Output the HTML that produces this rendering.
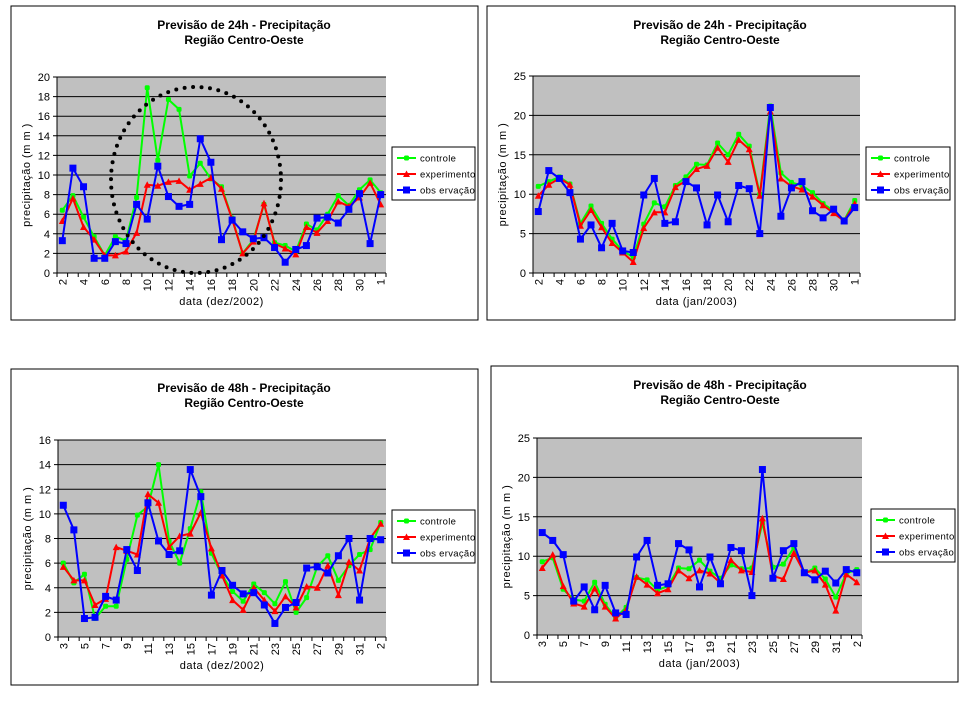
<!DOCTYPE html>
<html><head><meta charset="utf-8"><style>
body{margin:0;background:#fff;width:960px;height:720px;overflow:hidden;font-family:"Liberation Sans",Arial,sans-serif}
svg{position:absolute;left:0;top:0}
</style></head><body>
<svg id="s" width="960" height="720" xmlns="http://www.w3.org/2000/svg"></svg>
<script>
const c1Labels=[2,3,4,5,6,7,8,9,10,11,12,13,14,15,16,17,18,19,20,21,22,23,24,25,26,27,28,29,30,31,1];
const c1Green=[6.4,7.9,5.7,3.7,1.8,3.7,3.3,7.7,18.9,11.5,17.7,16.7,9.9,11.2,9.6,8.8,5.6,2.0,3.4,7.0,3.1,2.8,2.2,5.0,4.4,6.0,7.9,6.9,8.5,9.5,8.2];
const c1Red=[5.3,7.6,4.7,3.4,1.8,1.8,2.2,4.1,9.0,8.9,9.3,9.4,8.5,9.1,9.7,8.6,5.5,2.0,3.2,7.1,3.0,2.5,1.9,4.7,4.1,5.3,7.3,6.8,7.7,9.2,7.0];
const c1Blue=[3.3,10.7,8.8,1.5,1.5,3.2,3.0,7.0,5.5,10.9,7.8,6.8,7.0,13.7,11.3,3.4,5.4,4.2,3.5,3.6,2.6,1.1,2.4,2.8,5.6,5.7,5.1,6.5,8.1,3.0,8.0];
const c2Labels=c1Labels;
const c2Green=[11.0,11.6,12.2,11.3,6.3,8.5,6.3,4.3,2.8,2.0,6.2,8.9,8.4,11.1,12.2,13.8,13.7,16.5,15.0,17.6,16.1,10.0,21.2,12.7,11.5,11.1,10.2,8.8,7.9,6.7,9.2];
const c2Red=[9.8,11.2,12.0,11.2,6.0,8.0,5.8,3.8,2.6,1.4,5.7,7.7,7.7,10.9,11.7,13.2,13.6,15.9,14.1,16.9,15.7,9.8,20.5,12.0,11.0,10.6,9.7,8.6,7.6,6.6,8.8];
const c2Blue=[7.8,13.0,12.0,10.2,4.3,6.1,3.2,6.3,2.8,2.6,9.9,12.0,6.3,6.5,11.6,10.8,6.1,9.9,6.5,11.1,10.7,5.0,21.0,7.2,10.8,11.6,7.9,7.0,8.1,6.6,8.3];
const c3Labels=[3,4,5,6,7,8,9,10,11,12,13,14,15,16,17,18,19,20,21,22,23,24,25,26,27,28,29,30,31,1,2];
const c3Green=[6.0,4.4,5.1,1.5,2.5,2.5,6.3,9.9,10.6,14.0,7.8,6.0,8.8,11.8,6.8,5.0,3.7,2.9,4.3,3.6,2.7,4.5,2.0,3.2,5.7,6.6,4.6,5.8,6.7,7.1,9.3];
const c3Red=[5.7,4.6,4.6,2.6,3.1,7.3,7.0,6.7,11.6,10.9,7.3,8.2,8.4,10.1,7.2,5.0,3.0,2.2,4.0,3.0,2.1,3.3,2.4,4.1,4.0,5.8,3.4,6.1,5.4,8.0,9.2];
const c3Blue=[10.7,8.7,1.5,1.6,3.3,3.0,7.1,5.4,10.9,7.8,6.7,7.0,13.6,11.4,3.4,5.4,4.2,3.5,3.6,2.6,1.1,2.4,2.8,5.6,5.7,5.2,6.6,8.0,3.0,8.0,7.9];
const c4Labels=c3Labels;
const c4Green=[9.3,9.8,5.8,4.5,4.3,6.7,3.9,2.2,3.5,7.3,7.0,5.7,6.2,8.5,8.4,9.5,8.1,7.2,8.9,8.4,8.5,14.2,8.6,9.0,11.1,7.8,8.5,7.1,4.8,7.8,8.3];
const c4Red=[8.5,10.2,6.2,4.0,3.6,5.9,3.6,2.1,3.2,7.4,6.4,5.3,5.8,8.2,7.2,8.2,7.8,6.6,9.5,8.2,8.0,14.8,7.5,7.1,10.4,7.9,8.2,6.4,3.1,7.7,6.7];
const c4Blue=[13.0,12.0,10.2,4.3,6.1,3.2,6.3,2.8,2.6,9.9,12.0,6.3,6.5,11.6,10.8,6.1,9.9,6.5,11.1,10.7,5.0,21.0,7.2,10.7,11.6,7.9,7.0,8.1,6.6,8.3,7.9];

const S=document.getElementById('s');
const NS='http://www.w3.org/2000/svg';
function mk(tag,at,parent){const e=document.createElementNS(NS,tag);for(const k in at)e.setAttribute(k,at[k]);(parent||S).appendChild(e);return e;}
function txt(x,y,t,at,parent){const e=mk('text',Object.assign({x:x,y:y,'font-family':'Liberation Sans, Arial, sans-serif'},at),parent);e.textContent=t;return e;}

function chart(cfg){
  const g=mk('g',{});
  
  
  const fr=mk('rect',{x:cfg.fx,y:cfg.fy,width:cfg.fw,height:cfg.fh,fill:'#fff',stroke:'#000','stroke-width':1},g);
  
  
  const t1=txt(cfg.titleX,cfg.fy+23,cfg.title1,{'font-size':12,'font-weight':'bold','text-anchor':'middle'},g);
  
  
  const t2=txt(cfg.titleX,cfg.fy+38,'Região Centro-Oeste',{'font-size':12,'font-weight':'bold','text-anchor':'middle'},g);
  
  
  const pa=mk('rect',{x:cfg.L,y:cfg.T,width:cfg.R-cfg.L,height:cfg.B-cfg.T,fill:'#c0c0c0'},g);
  
  
  const n=cfg.labels.length, step=(cfg.R-cfg.L)/n;
  const X=i=>cfg.L+step*(i+0.5);
  const Y=v=>cfg.B-(v/cfg.max)*(cfg.B-cfg.T);
  for(let v=0;v<=cfg.max;v+=cfg.step){
    const gl=mk('line',{x1:cfg.L-4,x2:cfg.R,y1:Y(v),y2:Y(v),stroke:'#000','stroke-width':1},g);
    
    
    const tl=txt(cfg.L-7,Y(v)+4,String(v),{'font-size':11,'text-anchor':'end'},g);
    
    
  }
  mk('line',{x1:cfg.L,x2:cfg.L,y1:cfg.T,y2:cfg.B,stroke:'#000'},g);
  for(let i=0;i<=n;i++){
    const xx=cfg.L+step*i;
    mk('line',{x1:xx,x2:xx,y1:cfg.B,y2:cfg.B+4,stroke:'#000'},g);
  }
  cfg.labels.forEach((l,i)=>{
    if(i%2) return;
    const e=txt(0,0,String(l),{'font-size':11,'text-anchor':'end',transform:`translate(${X(i)+4},${cfg.B+6}) rotate(-90)`},g);
    
    
  });
  const xt=txt((cfg.L+cfg.R)/2,cfg.B+32,cfg.xtitle,{'font-size':11,'text-anchor':'middle','letter-spacing':'0.5'},g);
  
  
  const yt=txt(0,0,'precipitação (m m )',{'font-size':11,'text-anchor':'middle','letter-spacing':'0.5',transform:`translate(${cfg.L-27},${(cfg.T+cfg.B)/2}) rotate(-90)`},g);
  
  
  const series=[['controle','#00ff00',cfg.green,'circle'],['experimento','#ff0000',cfg.red,'tri'],['obs ervação','#0000ff',cfg.blue,'sq']];
  series.forEach(([nm,col,data,m])=>{
    const pts=data.map((v,i)=>X(i).toFixed(1)+','+Y(v).toFixed(1)).join(' ');
    const pl=mk('polyline',{points:pts,fill:'none',stroke:col,'stroke-width':2},g);
    
    
    data.forEach((v,i)=>marker(g,m,X(i),Y(v),col));
  });
  if(cfg.ellipse){
    const el=mk('ellipse',{cx:cfg.ellipse[0],cy:cfg.ellipse[1],rx:cfg.ellipse[2],ry:cfg.ellipse[3],fill:'none',stroke:'#000','stroke-width':4,'stroke-dasharray':'0 8.5','stroke-linecap':'round'},g);
    
    
  }
  const lg=mk('g',{},g);
  
  
  mk('rect',{x:cfg.lx,y:cfg.ly,width:cfg.lw,height:53,fill:'#fff',stroke:'#000'},lg);
  series.forEach(([nm,col,d,m],k)=>{
    const yy=cfg.ly+11+k*16;
    mk('line',{x1:cfg.lx+5,x2:cfg.lx+24,y1:yy,y2:yy,stroke:col,'stroke-width':2},lg);
    marker(lg,m,cfg.lx+14.5,yy,col);
    const le=txt(cfg.lx+28,yy+3.5,nm,{'font-size':9.5,'letter-spacing':'0.3'},lg);
    
    
  });
}
function marker(g,m,x,y,col){
  if(m==='circle') mk('rect',{x:x-2.5,y:y-2.5,width:5,height:5,fill:col,rx:1.5},g);
  else if(m==='tri') mk('polygon',{points:`${x},${y-3.5} ${x+3.5},${y+3} ${x-3.5},${y+3}`,fill:col},g);
  else mk('rect',{x:x-3.5,y:y-3.5,width:7,height:7,fill:col},g);
}
chart({name:'chart-24h-dez',title1:'Previsão de 24h - Precipitação',fx:11,fy:6,fw:467,fh:314,titleX:244,L:57,R:386,T:77,B:273,max:20,step:2,labels:c1Labels,green:c1Green,red:c1Red,blue:c1Blue,xtitle:'data (dez/2002)',lx:392,ly:147,lw:83,ellipse:[196,180,85,93]});
chart({name:'chart-24h-jan',title1:'Previsão de 24h - Precipitação',fx:487,fy:6,fw:468,fh:314,titleX:720,L:533,R:860,T:76,B:273,max:25,step:5,labels:c2Labels,green:c2Green,red:c2Red,blue:c2Blue,xtitle:'data (jan/2003)',lx:866,ly:147,lw:84});
chart({name:'chart-48h-dez',title1:'Previsão de 48h - Precipitação',fx:11,fy:369,fw:467,fh:316,titleX:244,L:58,R:386,T:440,B:637,max:16,step:2,labels:c3Labels,green:c3Green,red:c3Red,blue:c3Blue,xtitle:'data (dez/2002)',lx:392,ly:510,lw:83});
chart({name:'chart-48h-jan',title1:'Previsão de 48h - Precipitação',fx:491,fy:366,fw:467,fh:316,titleX:720,L:537,R:862,T:438,B:635,max:25,step:5,labels:c4Labels,green:c4Green,red:c4Red,blue:c4Blue,xtitle:'data (jan/2003)',lx:871,ly:509,lw:84});
</script>
</body></html>
